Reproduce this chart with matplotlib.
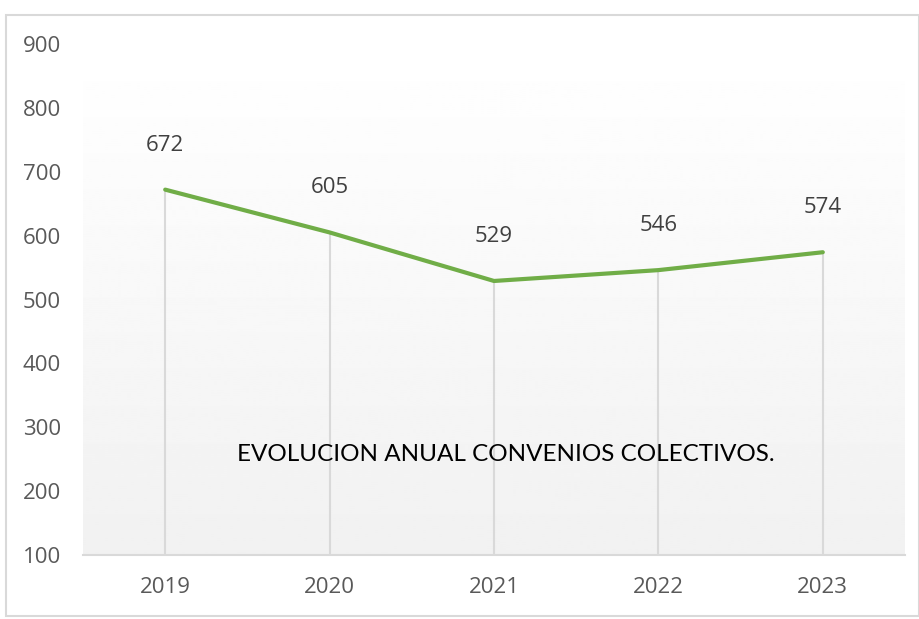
import numpy as np
from matplotlib import pyplot as plt
from matplotlib.patches import Rectangle

# Data
years = ["2019", "2020", "2021", "2022", "2023"]
convenios = [672, 605, 529, 546, 574]
y_ticks = [100, 200, 300, 400, 500, 600, 700, 800, 900]

fig = plt.figure(figsize=(9.2, 6.19), dpi=100)
ax = fig.add_axes([83 / 920, 1 - 555 / 619, (905 - 83) / 920, (555 - 44) / 619])

x = np.arange(len(years))
ax.set_xlim(-0.5, len(years) - 0.5)
ax.set_ylim(100, 900)

# Vertical gradient background (white on top, light grey at the bottom)
grad = np.linspace(1.0, 0.945, 256).reshape(-1, 1)
ax.imshow(grad, extent=(-0.5, len(years) - 0.5, 100, 900), aspect="auto",
          cmap="gray", vmin=0, vmax=1, origin="upper", zorder=0)

# Drop lines and main line
ax.vlines(x, 100, convenios, color="#d9d9d9", linewidth=1.5, zorder=1)
ax.plot(x, convenios, color="#70ad47", linewidth=3, solid_capstyle="round", zorder=3)

for xi, v in zip(x, convenios):
    ax.annotate(str(v), (xi, v), xytext=(0, 32), textcoords="offset points",
                ha="center", va="center", fontsize=16, color="#404040",
                family="Open Sans")

ax.text(2.07, 257, "EVOLUCION ANUAL CONVENIOS COLECTIVOS.", ha="center", va="center",
        fontsize=17.5, color="black", family="Lato")

ax.set_xticks(x)
ax.set_xticklabels(years)
ax.set_yticks(y_ticks)
ax.tick_params(axis="both", length=0, labelsize=16, labelcolor="#595959")
ax.tick_params(axis="x", pad=16)
ax.tick_params(axis="y", pad=16)
for lab in ax.get_xticklabels() + ax.get_yticklabels():
    lab.set_family("Open Sans")

for s in ["top", "right", "left"]:
    ax.spines[s].set_visible(False)
ax.spines["bottom"].set_color("#d9d9d9")
ax.spines["bottom"].set_linewidth(1.5)

# Chart border
fig.patches.append(Rectangle((6 / 920, 1 - 616 / 619), 913 / 920, 601 / 619,
                             transform=fig.transFigure, fill=False,
                             edgecolor="#d9d9d9", linewidth=1.5))

fig.savefig("out.png", dpi=100)
